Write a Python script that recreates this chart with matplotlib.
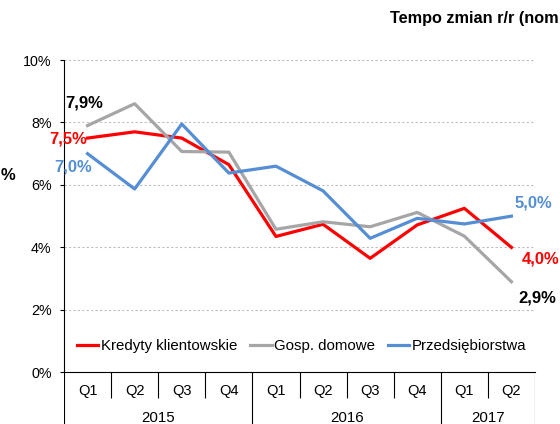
import matplotlib
matplotlib.use('Agg')
import matplotlib.pyplot as plt
import numpy as np

plt.rcParams['font.family'] = ['Liberation Sans', 'DejaVu Sans']

# Data
quarters = ['Q1', 'Q2', 'Q3', 'Q4', 'Q1', 'Q2', 'Q3', 'Q4', 'Q1', 'Q2']
years = ['2015', '2016', '2017']
year_counts = [4, 4, 2]
kredyty = [7.5, 7.7, 7.5, 6.65, 4.35, 4.74, 3.65, 4.72, 5.25, 4.0]
gosp = [7.9, 8.6, 7.07, 7.05, 4.58, 4.82, 4.66, 5.12, 4.36, 2.9]
przeds = [7.0, 5.87, 7.95, 6.38, 6.6, 5.81, 4.29, 4.93, 4.75, 5.0]
series_names = ['Kredyty klientowskie', 'Gosp. domowe', 'Przedsiębiorstwa']

red = '#FF0000'
grey = '#A6A6A6'
blue = '#558ED5'

W, H = 560, 424
fig = plt.figure(figsize=(W / 100, H / 100), dpi=100)

# main plot area
ax = fig.add_axes([64 / W, (H - 372.3) / H, 471 / W, 312.3 / H])
x = np.arange(len(quarters))

ax.plot(x, kredyty, color=red, lw=2.3, label=series_names[0], zorder=3)
ax.plot(x, gosp, color=grey, lw=2.3, label=series_names[1], zorder=3)
ax.plot(x, przeds, color=blue, lw=2.3, label=series_names[2], zorder=3)

ax.set_xlim(-0.5, len(quarters) - 0.5)
ax.set_ylim(0, 10)
ax.set_yticks([0, 2, 4, 6, 8, 10])
ax.yaxis.set_major_formatter(plt.FuncFormatter(lambda v, _: f'{int(v)}%'))
ax.tick_params(axis='y', direction='out', length=3, width=0.8, pad=6, labelsize=10.3)
ax.set_xticks([])
for s in ['top', 'right']:
    ax.spines[s].set_visible(False)
ax.spines['left'].set_linewidth(0.8)
ax.spines['bottom'].set_linewidth(0.8)
ax.yaxis.grid(True, linestyle=(0, (2, 2)), color='#BFBFBF', lw=0.8)
ax.set_axisbelow(True)

# data labels on first and last points
lab = dict(textcoords='offset points', fontsize=12, fontweight='bold', va='center',
           annotation_clip=False)
ax.annotate(f'{gosp[0]:.1f}%'.replace('.', ','), (x[0], gosp[0]), xytext=(-16.3, 15.9),
            ha='left', color='black', **lab)
ax.annotate(f'{kredyty[0]:.1f}%'.replace('.', ','), (x[0], kredyty[0]), xytext=(-0.2, -0.7),
            ha='right', color=red, **lab)
ax.annotate(f'{przeds[0]:.1f}%'.replace('.', ','), (x[0], przeds[0]), xytext=(3, -9.9),
            ha='right', color=blue, **lab)
ax.annotate(f'{przeds[-1]:.1f}%'.replace('.', ','), (x[-1], przeds[-1]), xytext=(1.9, 9.6),
            ha='left', color=blue, **lab)
ax.annotate(f'{kredyty[-1]:.1f}%'.replace('.', ','), (x[-1], kredyty[-1]), xytext=(7.5, -8.4),
            ha='left', color=red, **lab)
ax.annotate(f'{gosp[-1]:.1f}%'.replace('.', ','), (x[-1], gosp[-1]), xytext=(5, -12),
            ha='left', color='black', **lab)

ax.legend(loc='center', bbox_to_anchor=(0.504, 0.085), ncol=3, frameon=False,
          handlelength=1.45, handletextpad=0.15, columnspacing=0.85, fontsize=10.8,
          borderpad=0, borderaxespad=0)

# category table below the axis
tax = fig.add_axes([64 / W, (H - 450) / H, 471 / W, 77.7 / H])
tax.set_xlim(-0.5, len(quarters) - 0.5)
tax.set_ylim(-77.7 / 26, 0)
tax.axis('off')

bounds = np.cumsum([0] + year_counts) - 0.5
for i in range(1, len(quarters)):
    if (i - 0.5) not in bounds:
        tax.vlines(i - 0.5, -1, 0, color='black', lw=0.8)
tax.vlines(bounds, -77.7 / 26, 0, color='black', lw=0.8)
for i, q in enumerate(quarters):
    tax.text(i, -0.72, q, ha='center', va='center', fontsize=10.5)
for k, yname in enumerate(years):
    tax.text((bounds[k] + bounds[k + 1]) / 2, -1.75, yname, ha='center', va='center',
             fontsize=10.8)

# title (only the visible part of the source's cropped title) and the lone "%" at left
fig.text(390 / W, 1 - 23 / H, 'Tempo zmian r/r (nom', fontsize=11.7,
         fontweight='bold', va='baseline', ha='left')
fig.text(0.5 / W, 1 - 175 / H, '%', fontsize=12, fontweight='bold', va='center', ha='left')

fig.savefig('out.png', dpi=100, facecolor='white')
